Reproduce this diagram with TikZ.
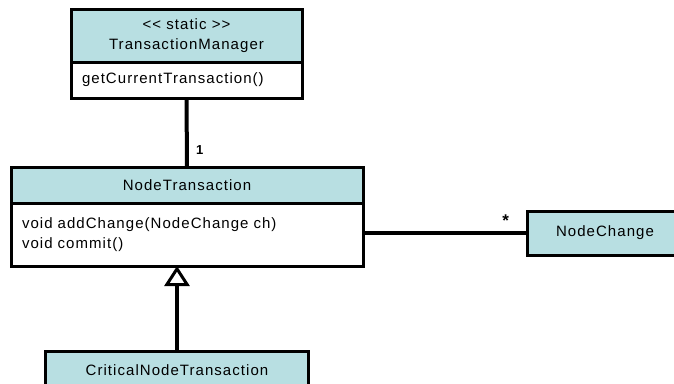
\documentclass[tikz,border=0pt]{standalone}
\usepackage{fontspec}
\setmainfont{Liberation Sans}[LetterSpace=7]
\usetikzlibrary{arrows.meta, positioning}
\definecolor{headblue}{RGB}{184,223,226}
\tikzstyle{classhead} = [rectangle, draw=black, line width=3pt, outer sep=0pt, fill=headblue, align=center, font=\fontsize{15}{20}\selectfont]
\tikzstyle{classbody} = [rectangle, draw=black, line width=3pt, outer sep=0pt, fill=white, inner xsep=11pt, align=left, font=\fontsize{15}{20}\selectfont]
\tikzstyle{assoc} = [line width=4pt]
\tikzstyle{inherit} = [line width=4pt, -{Triangle[open, length=20pt, width=25pt, line width=3pt]}]
\tikzstyle{mult} = [font=\bfseries\fontsize{13}{15}\selectfont]

\begin{document}
\begin{tikzpicture}[x=1pt, y=-1pt, node distance=0pt]
\useasboundingbox (0,0) rectangle (674,383);
\node (tmhead) [classhead, minimum width=231pt, minimum height=53pt] at (186.5,35.5) {<{}< static >{}>\\TransactionManager};
\node (tmbody) [classbody, minimum width=231pt, minimum height=36pt, text width=209pt, below=of tmhead] {getCurrentTransaction()};
\node (nthead) [classhead, minimum width=352pt, minimum height=36pt] at (187,185) {NodeTransaction};
\node (ntbody) [classbody, minimum width=352pt, minimum height=63pt, text width=330pt, below=of nthead] {void addChange(NodeChange ch)\\void commit()\\[-3pt]};
\node (ncbox) [classhead, minimum width=156pt, minimum height=44pt] at (605,233) {NodeChange};
\node (crit) [classhead, minimum width=263pt, minimum height=38pt] at (177,370) {CriticalNodeTransaction};

\draw [assoc] (tmbody) -- node[mult, pos=0.75, right=4pt] {1} (nthead);
\draw [assoc] (ntbody.east |- ncbox.west) -- node[mult, font=\bfseries\fontsize{17}{17}\selectfont, pos=0.87, above=1pt] {*} (ncbox.west);
\draw [inherit] (crit.north) -- (crit.north |- ntbody.south);
\end{tikzpicture}
\end{document}
